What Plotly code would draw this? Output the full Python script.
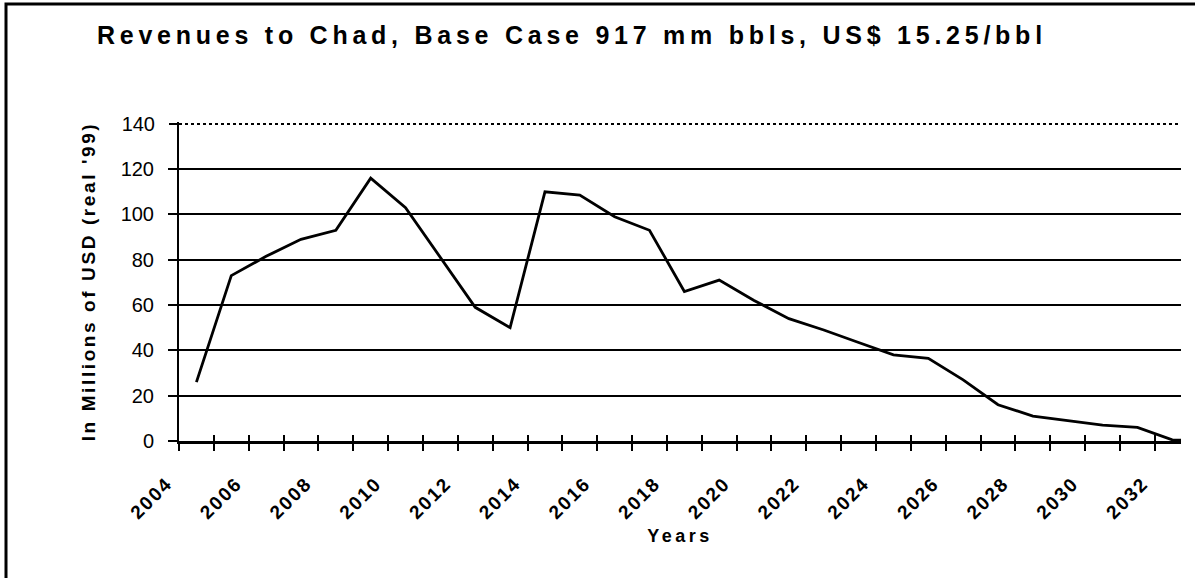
import plotly.graph_objects as go

# ---- data ----
years = list(range(2004, 2034))
revenue = [26, 73, 81.5, 89, 93, 116, 103, 81, 59, 50,
           110, 108.5, 99, 93, 66, 71, 62, 54, 49, 43.5,
           38, 36.5, 27, 16, 11, 9, 7, 6, 0.5, 0]
tick_years = list(range(2004, 2033))
tick_labels = [str(y) if y % 2 == 0 else "" for y in tick_years]
y_ticks = [0, 20, 40, 60, 80, 100, 120]
y_top = [140]

title_text = "Revenues to Chad, Base Case 917 mm bbls, US$ 15.25/bbl"
x_title = "Years"
y_title = "In Millions of USD (real '99)"

FONT = "Liberation Sans, Arial, sans-serif"


def spaced(t, px):
    return f'<span style="letter-spacing:{px}px">{t}</span>' if t else ""


x_centres = [y + 0.5 for y in years]   # categories centred between tick marks
x_range = [2004, 2032.75]
y_range = [0, 140.8]

fig = go.Figure()
fig.add_trace(go.Scatter(
    x=x_centres, y=revenue, mode="lines",
    line=dict(color="black", width=2.8),
    showlegend=False, hoverinfo="x+y",
))
# helper (invisible) traces so the overlay axes are instantiated
fig.add_trace(go.Scatter(x=[None], y=[None], xaxis="x", yaxis="y2",
                         showlegend=False, hoverinfo="skip"))
fig.add_trace(go.Scatter(x=[None], y=[None], xaxis="x2", yaxis="y",
                         showlegend=False, hoverinfo="skip"))

fig.update_layout(
    width=1195, height=578,
    margin=dict(l=179, r=14, t=122, b=137, autoexpand=False),
    paper_bgcolor="white", plot_bgcolor="white",
    font=dict(family=FONT, color="black"),
    title=dict(
        text=spaced(title_text, 4.75),
        font=dict(family=FONT, size=25, color="black", weight="bold"),
        x=97 / 1195, xanchor="left", xref="container",
        y=1 - 35 / 578, yanchor="middle", yref="container",
    ),
    xaxis=dict(
        range=x_range, tickmode="array",
        tickvals=tick_years, ticktext=[spaced(t, 2) for t in tick_labels],
        tickangle=-45,
        tickfont=dict(family=FONT, size=19, color="black", weight="bold"),
        ticks="outside", ticklen=7, tickwidth=1.6, tickcolor="black",
        ticklabelstandoff=14, ticklabelshift=-12,
        showgrid=False, zeroline=False, automargin=False,
        showline=True, linecolor="black", linewidth=2.5,
        title=dict(text=spaced(x_title, 3.5),
                   font=dict(family=FONT, size=18, color="black", weight="bold"),
                   standoff=8),
    ),
    xaxis2=dict(
        range=x_range, overlaying="x", anchor="y", side="bottom",
        tickmode="array", tickvals=tick_years,
        ticks="inside", ticklen=6, tickwidth=1.6, tickcolor="black",
        showticklabels=False, showgrid=False, zeroline=False, showline=False,
        automargin=False,
    ),
    yaxis=dict(
        range=y_range, tickmode="array",
        tickvals=y_ticks, ticktext=[str(v) for v in y_ticks],
        tickfont=dict(family=FONT, size=20, color="black"),
        ticks="outside", ticklen=9, tickwidth=1.6, tickcolor="black",
        ticklabelstandoff=10,
        showgrid=True, gridcolor="black", gridwidth=2,
        zeroline=False, automargin=False,
        showline=True, linecolor="black", linewidth=2,
        title=dict(text=spaced(y_title, 2.6),
                   font=dict(family=FONT, size=19, color="black", weight="bold"),
                   standoff=20),
    ),
    yaxis2=dict(
        range=y_range, overlaying="y", anchor="x", side="left",
        tickmode="array",
        tickvals=y_top, ticktext=[str(v) for v in y_top],
        tickfont=dict(family=FONT, size=20, color="black"),
        ticks="outside", ticklen=9, tickwidth=1.6, tickcolor="black",
        ticklabelstandoff=10,
        showgrid=True, gridcolor="black", gridwidth=1.5, griddash="dot",
        zeroline=False, showline=False, automargin=False,
    ),
)

# scanned-page frame (top and left edges)
px_x = lambda p: (p - 179) / 1002
px_y = lambda p: (441 - p) / 319
fig.add_shape(type="path", xref="paper", yref="paper",
              path=f"M {px_x(6)},{px_y(600)} L {px_x(6)},{px_y(4)} L {px_x(1210)},{px_y(4)}",
              line=dict(color="black", width=3))

fig.write_html("out.html", config={"displayModeBar": False},
               post_script="document.body.style.margin='0';document.body.style.overflow='hidden';")
